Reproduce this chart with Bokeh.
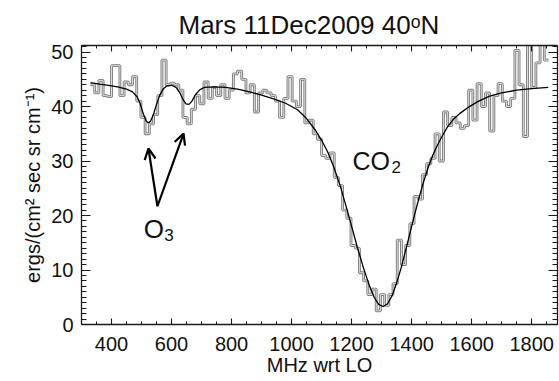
from bokeh.plotting import figure
from bokeh.models import (LinearAxis, Range1d, Label, Arrow, OpenHead,
                          SingleIntervalTicker, CustomJSTickFormatter)
from bokeh.embed import file_html
from bokeh.resources import INLINE

FONT = "Liberation Sans"

# ---- data ----
# observed spectrum, 14 MHz channels starting at 330 MHz
bin_start_mhz = 330
bin_width_mhz = 14
observed = [
    44.0, 42.5, 44.8, 42.0, 41.8, 47.5, 47.5, 42.0, 44.5, 44.0,
    45.5, 41.0, 38.0, 35.0, 36.8, 38.5, 42.0, 48.5, 44.0, 44.3,
    44.0, 43.0, 38.0, 36.8, 39.5, 42.0, 40.5, 44.5, 41.5, 43.5,
    42.0, 44.0, 41.5, 43.0, 46.0, 46.5, 45.0, 42.5, 44.0, 39.0,
    42.5, 43.0, 42.5, 42.0, 41.0, 38.0, 41.5, 45.5, 41.0, 40.0,
    45.0, 37.0, 37.5, 35.0, 34.0, 31.0, 30.5, 31.5, 27.0, 25.5,
    21.0, 19.5, 14.5, 14.0, 9.5, 8.0, 5.5, 6.5, 2.5, 5.5,
    3.5, 5.5, 7.5, 15.5, 11.0, 14.5, 18.5, 23.5, 23.0, 27.5,
    29.5, 30.5, 35.0, 30.0, 39.0, 36.5, 38.0, 37.0, 36.0, 36.5,
    43.0, 37.5, 44.2, 40.0, 42.5, 35.5, 42.0, 44.2, 41.0, 40.0,
    41.5, 50.3, 44.0, 34.5, 52.0, 43.5, 48.0, 52.0, 48.5,
]

# fitted model (smooth curve)
model_mhz = [
    330, 360, 390, 420, 450, 470, 485, 495, 505, 515, 522, 530, 540, 550,
    560, 572, 585, 600, 615, 628, 638, 648, 658, 668, 680, 695, 710, 740,
    780, 820, 860, 900, 940, 980, 1020, 1050, 1080, 1100, 1120, 1140, 1160,
    1180, 1200, 1220, 1240, 1260, 1275, 1290, 1305, 1320, 1335, 1350, 1365,
    1380, 1395, 1410, 1425, 1440, 1455, 1470, 1485, 1500, 1520, 1540, 1560,
    1590, 1620, 1660, 1700, 1750, 1800, 1855,
]
model_flux = [
    44.4, 44.1, 43.9, 43.6, 43.2, 42.7, 41.8, 40.6, 38.8, 37.4, 37.0, 37.3, 38.6, 40.4,
    42.0, 43.2, 43.8, 43.9, 43.5, 42.5, 41.3, 40.5, 40.4, 41.0, 42.2, 43.1, 43.5, 43.6,
    43.5, 43.2, 42.7, 42.1, 41.4, 40.6, 39.4, 37.8, 35.6, 33.8, 31.7, 29.0, 25.8,
    22.0, 18.0, 14.0, 10.3, 7.0, 5.0, 3.7, 3.3, 3.8, 5.3, 7.6, 10.4,
    13.6, 16.9, 20.2, 23.3, 26.2, 28.8, 31.0, 32.8, 34.4, 36.3, 37.7, 38.7,
    39.9, 40.9, 41.9, 42.5, 43.0, 43.3, 43.5,
]

x_range_mhz = (300, 1886)
y_range_flux = (0, 51.2)
x_tick_step = 200
y_tick_step = 10

title_text = "Mars 11Dec2009 40\u1d52N"
x_label = "MHz wrt LO"
y_label = "ergs/(cm\u00b2 sec sr cm\u207b\u00b9)"

# annotation anchors (data units)
o3_tail = (553, 21.7)
o3_heads = [(523, 32.3), (640, 35.05)]

# ---- build ----
edges = [bin_start_mhz + bin_width_mhz * i for i in range(len(observed) + 1)]
step_vals = observed + [observed[-1]]

p = figure(width=559, height=381,
           x_range=Range1d(*x_range_mhz), y_range=Range1d(*y_range_flux),
           output_backend="svg", toolbar_location=None,
           min_border_left=81, min_border_right=2, min_border_top=45, min_border_bottom=57)
p.xgrid.visible = False
p.ygrid.visible = False
p.outline_line_color = None
p.background_fill_color = "white"
p.border_fill_color = "white"

p.title.text = title_text
p.title.text_font = FONT
p.title.text_font_size = "26px"
p.title.text_font_style = "normal"
p.title.text_color = "#111111"
p.title.align = "left"
p.title.offset = 97
p.title.standoff = 12

p.step(edges, step_vals, mode="after", line_color="#7a7a7a", line_width=2.8)
p.step(edges, step_vals, mode="after", line_color="#dedede", line_width=1)
p.line(model_mhz, model_flux, line_color="black", line_width=1.3)

def style(ax, major_in, minor_in, show_labels):
    ax.axis_line_color = "#1a1a1a"
    ax.axis_line_width = 1.3
    ax.major_tick_in = major_in
    ax.major_tick_out = 0
    ax.minor_tick_in = minor_in
    ax.minor_tick_out = 0
    ax.major_tick_line_color = "#1a1a1a"
    ax.minor_tick_line_color = "#1a1a1a"
    ax.major_tick_line_width = 1.1
    ax.minor_tick_line_width = 1.0
    if show_labels:
        ax.major_label_text_font = FONT
        ax.major_label_text_font_size = "20px"
        ax.major_label_text_color = "#111111"
    else:
        ax.formatter = CustomJSTickFormatter(code="return ''")
        ax.major_label_text_font_size = "0px"
        ax.major_label_standoff = 0

p.xaxis.ticker = SingleIntervalTicker(interval=x_tick_step, num_minor_ticks=4)
p.yaxis.ticker = SingleIntervalTicker(interval=y_tick_step, num_minor_ticks=10)
style(p.xaxis[0], 6, 3, True)
style(p.yaxis[0], 9, 5, True)
p.xaxis.major_label_standoff = 12
p.yaxis.major_label_standoff = 8

for ax, txt, so in ((p.xaxis[0], x_label, 0), (p.yaxis[0], y_label, 4)):
    ax.axis_label = txt
    ax.axis_label_text_font = FONT
    ax.axis_label_text_font_size = "20px"
    ax.axis_label_text_font_style = "normal"
    ax.axis_label_text_color = "#111111"
    ax.axis_label_standoff = so

top = LinearAxis(ticker=SingleIntervalTicker(interval=x_tick_step, num_minor_ticks=4))
right = LinearAxis(ticker=SingleIntervalTicker(interval=y_tick_step, num_minor_ticks=10))
style(top, 6, 3, False)
style(right, 9, 5, False)
p.add_layout(top, "above")
p.add_layout(right, "right")

def lab(x, y, text, size):
    p.add_layout(Label(x=x, y=y, text=text, text_font=FONT, text_font_size=size,
                       text_align="left", text_baseline="alphabetic", text_color="#111111"))

# molecule labels
lab(1203, 30.0, "CO", "25px")
lab(1333, 28.9, "2", "17px")
lab(507, 17.6, "O", "26px")
lab(576, 16.5, "3", "17px")

for hx, hy in o3_heads:
    p.add_layout(Arrow(x_start=o3_tail[0], y_start=o3_tail[1], x_end=hx, y_end=hy,
                       line_color="black", line_width=2.2,
                       end=OpenHead(size=11, line_color="black", line_width=2.2)))

open("out.html", "w").write(file_html(p, INLINE))
